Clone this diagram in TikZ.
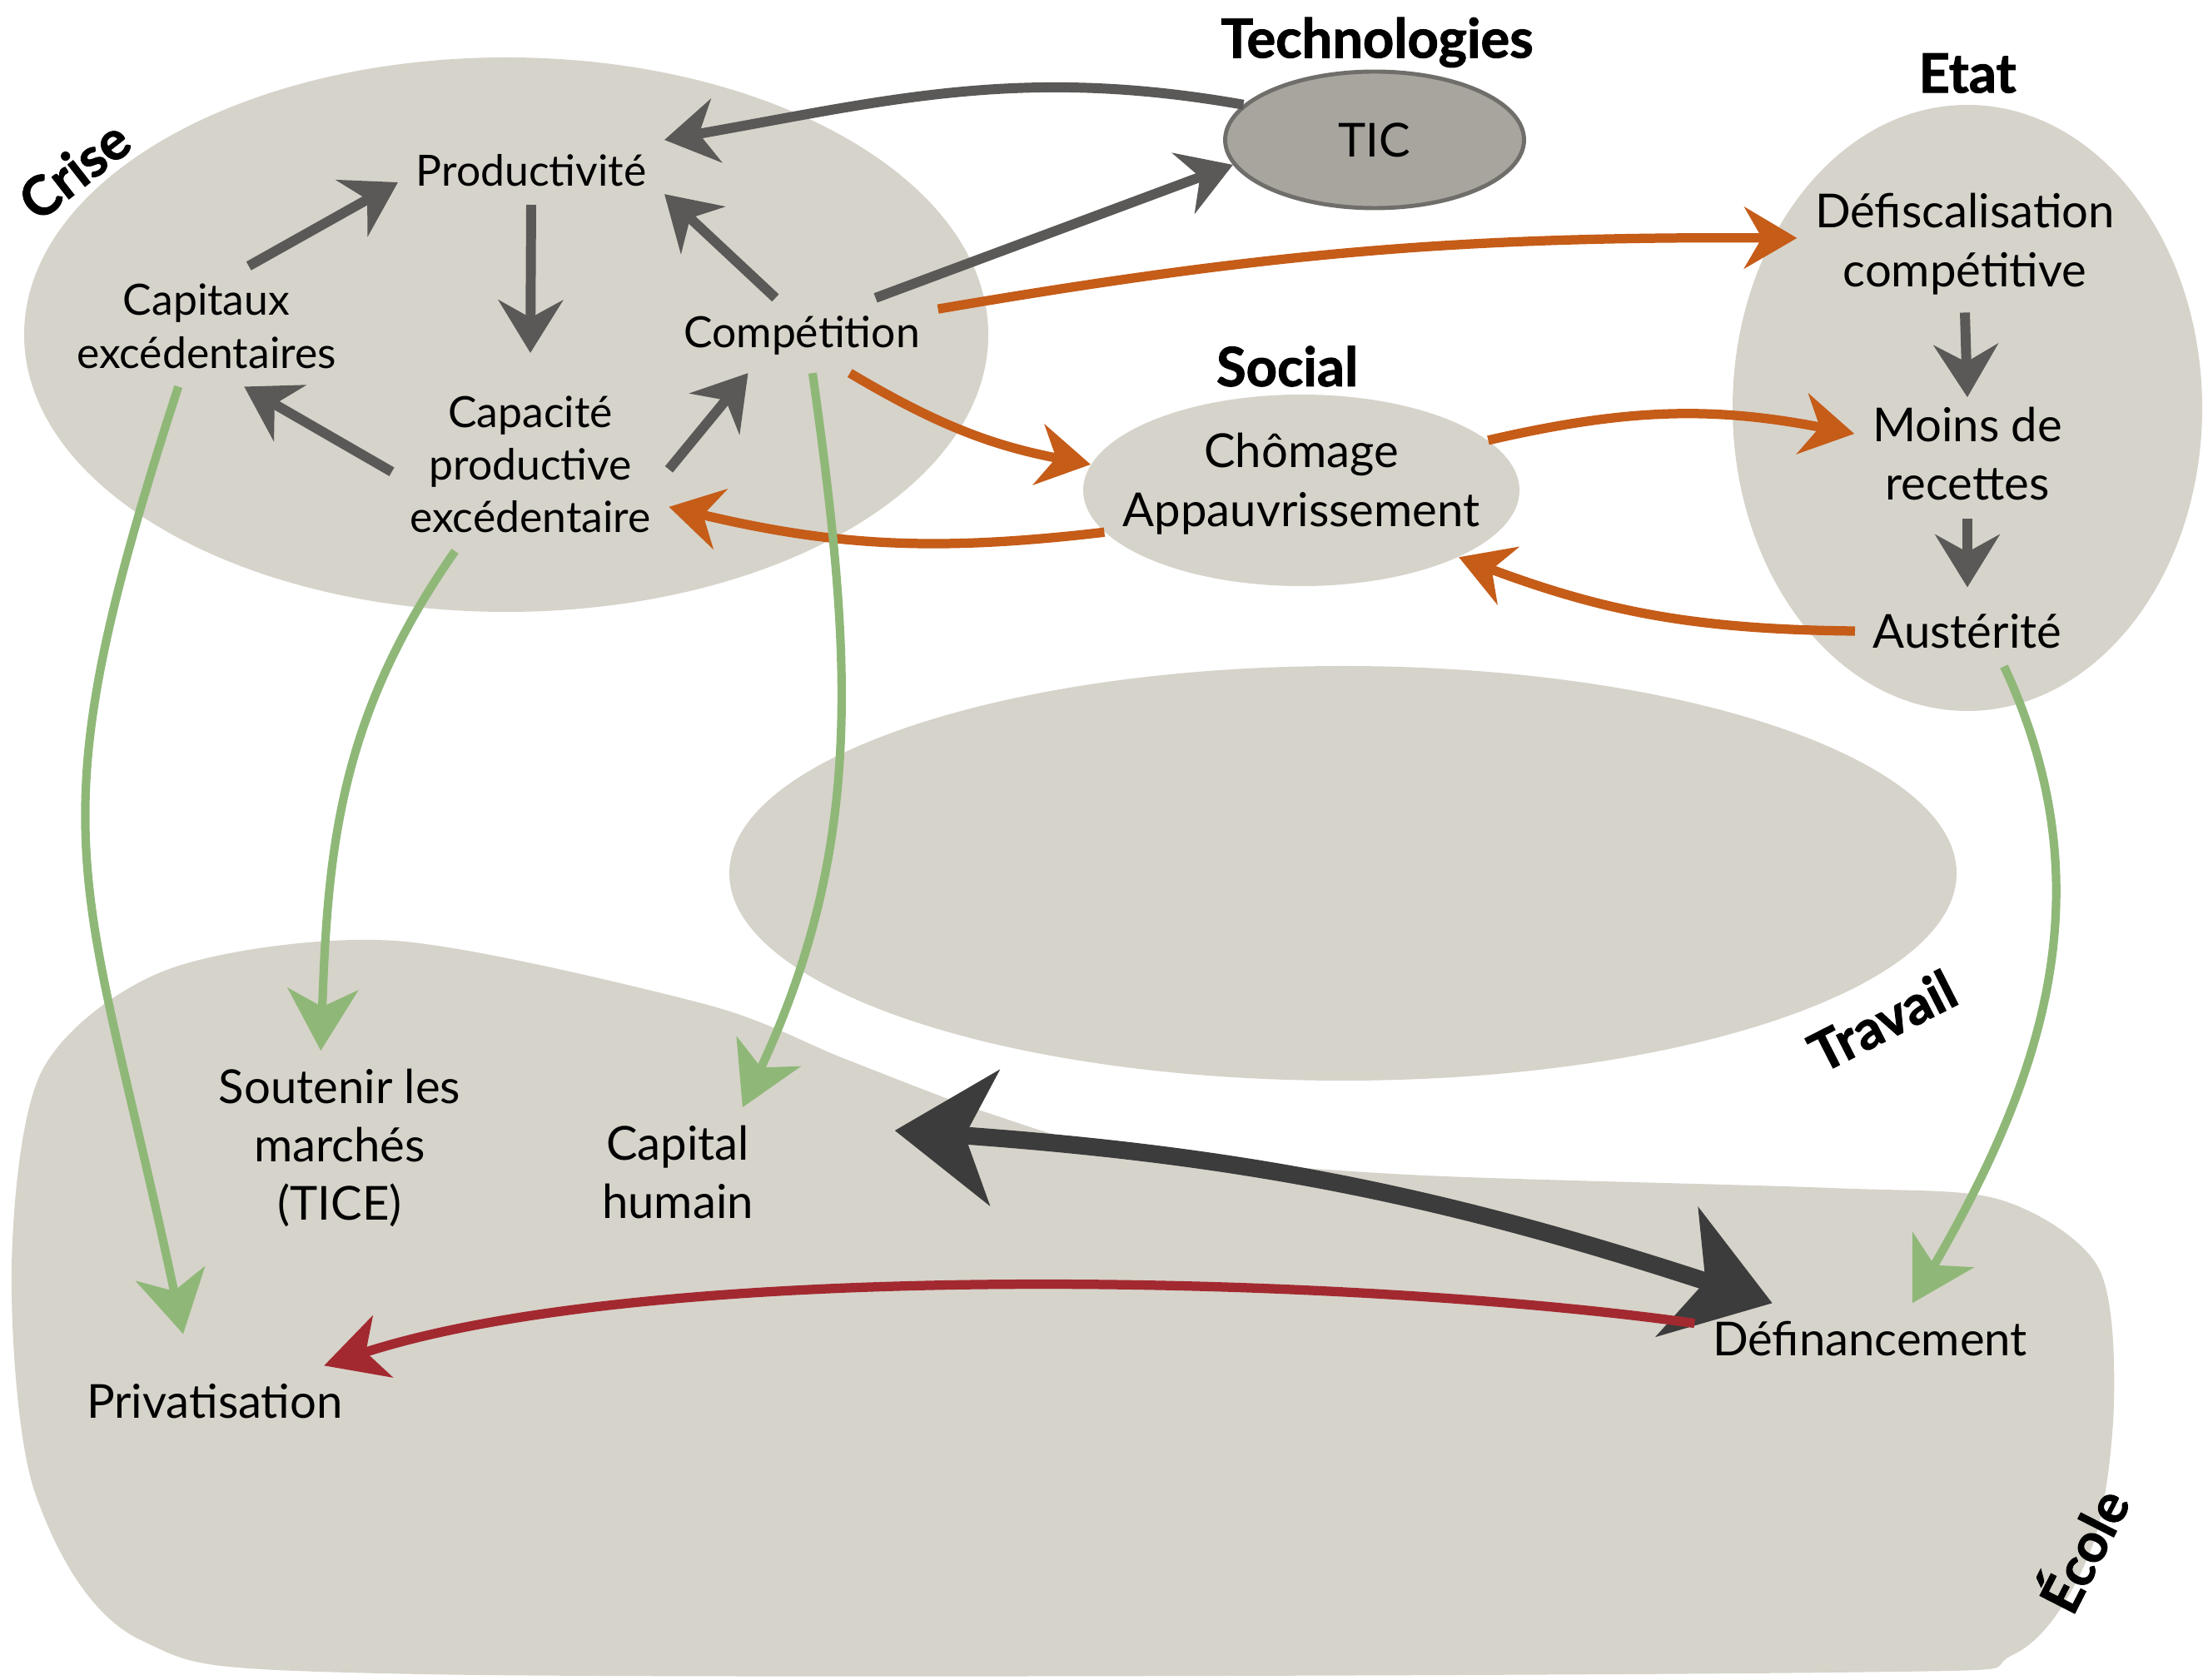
\documentclass[tikz,border=0pt]{standalone}
\usepackage{fontspec}
\setmainfont{Lato}[BoldFeatures={FakeBold=1.5}]
\usetikzlibrary{arrows.meta,shapes.geometric}
\definecolor{bubble}{RGB}{214,211,202}
\definecolor{ticfill}{RGB}{168,164,158}
\definecolor{ticline}{RGB}{112,110,106}
\definecolor{greyarrow}{RGB}{90,89,87}
\definecolor{darkarrow}{RGB}{60,60,60}
\definecolor{orangearrow}{RGB}{197,92,24}
\definecolor{greenarrow}{RGB}{143,184,120}
\definecolor{redarrow}{RGB}{163,41,48}

\begin{document}
\begin{tikzpicture}[
  crisetxt/.style={align=center,inner sep=6pt,font=\fontsize{14.7}{18}\selectfont},
  bodytxt/.style={align=center,inner sep=6pt,font=\fontsize{16}{20}\selectfont},
  titletxt/.style={inner sep=0pt,font=\fontsize{18.5}{22}\selectfont\bfseries},
  grayarr/.style={draw=greyarrow,line width=3.4pt,-{Stealth[length=18pt,width=22pt,inset=6pt]}},
  orangearr/.style={draw=orangearrow,line width=3.2pt,-{Stealth[length=18pt,width=21pt,inset=6pt]}},
  greenarr/.style={draw=greenarrow,line width=2.9pt,-{Stealth[length=21pt,width=24pt,inset=6pt]}},
  redarr/.style={draw=redarrow,line width=3.2pt,-{Stealth[length=21pt,width=22pt,inset=6pt]}},
  darkarr/.style={draw=darkarrow,line width=6pt,{Stealth[length=34pt,width=46pt,inset=10pt]}-{Stealth[length=34pt,width=46pt,inset=10pt]}}
]
\useasboundingbox (0,0) rectangle (26.52,20.17);
\fill[bubble] (6.08,16.15) ellipse (5.79 and 3.33);
\fill[bubble] (23.63,15.27) ellipse (2.82 and 3.64);
\fill[bubble] (16.13,9.68) ellipse (7.37 and 2.49);
\fill[bubble] plot[smooth cycle,tension=0.5] coordinates {(4.74,8.87) (8.46,8.11) (10.15,7.45) (11.84,6.81) (13.53,6.35) (16.91,6.06) (21.99,5.90) (24.02,5.76) (25.20,4.95) (25.39,3.32) (25.12,1.57) (24.19,0.30) (21.99,0.08) (5.07,0.06) (1.69,0.47) (0.42,2.24) (0.14,4.95) (0.51,7.32) (2.03,8.53)};

\node[titletxt,rotate=38] (crise) at (0.89,18.13) {Crise};
\node[titletxt] (technos) at (16.54,19.66) {Technologies};
\node[titletxt] (etat) at (23.63,19.29) {Etat};
\node[titletxt] (socialt) at (15.46,15.77) {Social};
\node[titletxt,rotate=27] (travail) at (22.61,7.91) {Travail};
\node[titletxt,rotate=63] (ecole) at (24.98,1.57) {École};

\node[crisetxt] (prod) at (6.38,18.12) {Productivité};
\node[crisetxt] (capx) at (2.48,16.25) {Capitaux\\excédentaires};
\node[crisetxt] (comp) at (9.63,16.14) {Compétition};
\node[crisetxt] (capa) at (6.37,14.59) {Capacité\\productive\\excédentaire};
\node[bodytxt,ellipse,draw=ticline,line width=1.4pt,fill=ticfill,minimum width=3.59cm,minimum height=1.64cm,inner sep=0pt] (tic) at (16.51,18.49) {TIC};
\node[ellipse,fill=bubble,minimum width=5.24cm,minimum height=2.30cm,inner sep=0pt] (social) at (15.63,14.28) {};
\node[bodytxt] (chomage) at (15.63,14.36) {Chômage\\Appauvrissement};
\node[bodytxt] (defisc) at (23.60,17.24) {Défiscalisation\\compétitive};
\node[bodytxt] (moins) at (23.63,14.72) {Moins de\\recettes};
\node[bodytxt] (aust) at (23.63,12.59) {Austérité};
\node[bodytxt] (sout) at (4.08,6.38) {Soutenir les\\marchés\\(TICE)};
\node[bodytxt] (caph) at (8.14,6.09) {Capital\\humain};
\node[bodytxt] (defin) at (22.46,4.09) {Définancement};
\node[bodytxt] (priv) at (2.58,3.34) {Privatisation};

\draw[grayarr] (capx.55) -- (prod.185);
\draw[grayarr] (prod.south) -- ([yshift=3mm]capa.north);
\draw[grayarr] (comp.125) -- (prod.-10);
\draw[grayarr] (capa.183) -- (capx.-58);
\draw[grayarr] (capa.-2) -- (comp.215);
\draw[grayarr] (comp.27) -- (tic.190);
\draw[grayarr] (tic.165) to[out=170,in=10] (prod.13);
\draw[grayarr] (defisc.south) -- ([yshift=-1mm]moins.north);
\draw[grayarr] (moins.south) -- ([yshift=1mm]aust.north);

\draw[orangearr] (comp.11) to[bend left=5] (defisc.178);
\draw[orangearr] (comp.-38) to[bend right=10] (social.173);
\draw[orangearr] (social.192) to[bend left=10] (capa.-17);
\draw[orangearr] (social.15) to[bend left=12] (moins.170);
\draw[orangearr] (aust.180) to[bend left=10] (social.-23);

\draw[greenarr] (capx.-115) to[out=-108,in=102,looseness=1.3] ([shift={(-0.38,0.38)}]priv.north);
\draw[greenarr] (capa.-131) to[out=-125,in=88] (sout.101);
\draw[greenarr] (comp.-74) to[out=-82,in=65] (caph.45);
\draw[greenarr] (aust.-44) to[out=-65,in=60] (defin.40);

\draw[darkarr] ([shift={(1.48,0.5)}]caph.east) to[bend left=7] (defin.160);
\draw[redarr] (defin.175) to[out=172,in=18,looseness=0.65] (priv.18);
\end{tikzpicture}
\end{document}
